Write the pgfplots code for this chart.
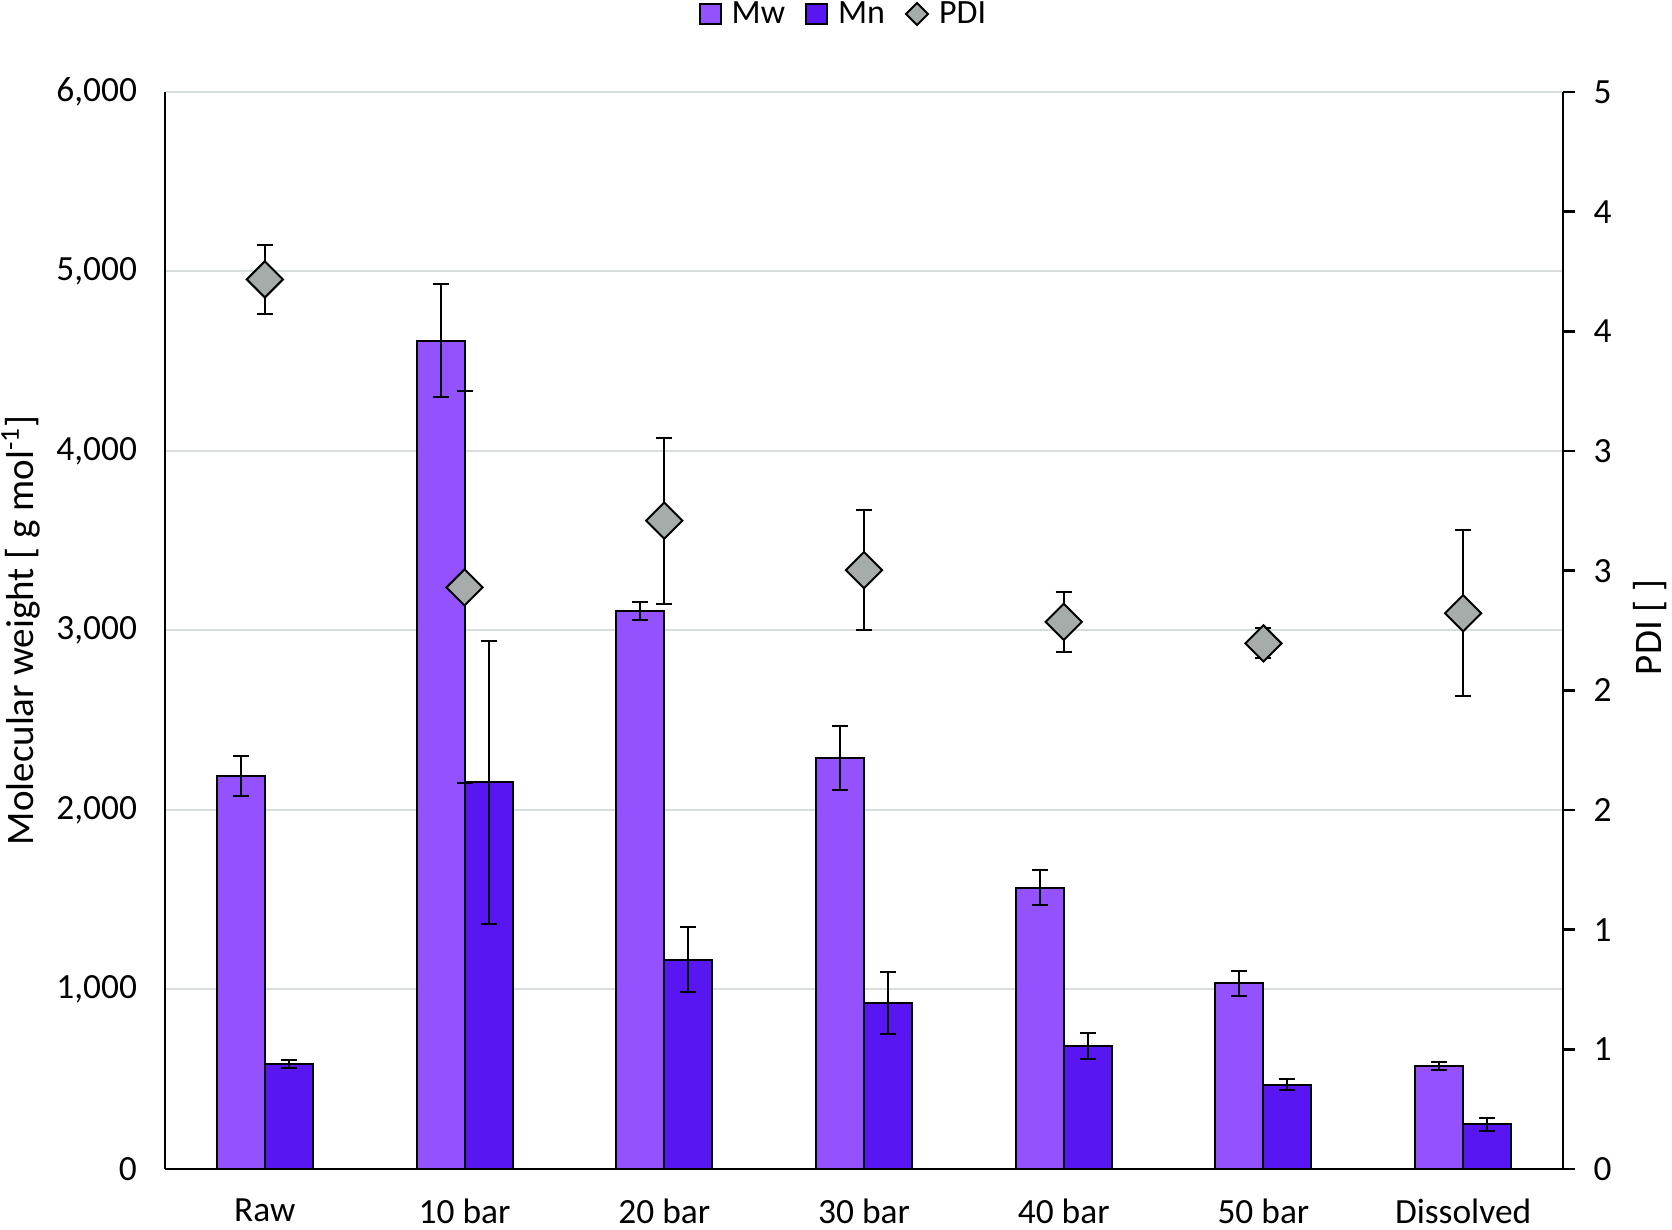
\documentclass[border=0pt]{standalone}
\usepackage{fontspec}
\setmainfont{Carlito}
\usepackage{pgfplots}
\usepackage{pgfplotstable}
\pgfplotsset{compat=1.18}
\definecolor{mwc}{RGB}{148,82,254}
\definecolor{mnc}{RGB}{88,22,242}
\definecolor{pdic}{RGB}{166,172,170}
\definecolor{gridc}{RGB}{216,221,221}

\pgfplotstableread{
x xw xn mw mwe mn mne pdi pdie
0 -0.12 0.12 2190 112 585 20 4.13 0.16
1 0.88 1.12 4614 316 2155 789 2.70 0.91
2 1.88 2.12 3110 50 1167 183 3.01 0.385
3 2.88 3.12 2288 178 926 172 2.78 0.28
4 3.88 4.12 1566 97 685 75 2.54 0.14
5 4.88 5.12 1034 70 469 31 2.44 0.07
6 5.88 6.12 573 23 249 35 2.58 0.385
}\data

\begin{document}
\begin{tikzpicture}
\path[use as bounding box] (0pt,0pt) rectangle (836pt,615pt);
\begin{axis}[
  at={(82.5pt,30.5pt)}, anchor=south west,
  width=699pt, height=538.5pt, scale only axis,
  xmin=-0.5, xmax=6.5, ymin=0, ymax=6000,
  axis x line*=bottom, axis y line*=left,
  axis line style={line width=1.2pt, -},
  xtick={0,...,6},
  xticklabels={Raw,10 bar,20 bar,30 bar,40 bar,50 bar,Dissolved},
  ytick={0,1000,...,6000},
  major tick length=0pt,
  ymajorgrids, grid style={gridc, line width=1pt},
  tick label style={font=\fontsize{17.7}{20}\selectfont},
  xticklabel style={yshift=-11.5pt},
  yticklabel style={xshift=-10.5pt},
  /pgf/number format/.cd, 1000 sep={,}, assume math mode=true, /pgfplots/.cd,
  ylabel={Molecular weight [ g mol\textsuperscript{-1}]},
  ylabel style={at={(axis description cs:-0.103,0.5)}, anchor=center, font=\fontsize{19.5}{22}\selectfont},
  error bars/error bar style={line width=1pt, black},
  error bars/error mark options={rotate=90, line width=1pt, black, mark size=4pt},
]
\addplot[ybar, bar width=24pt, bar shift=0pt, fill=mwc, draw=black, line width=1pt,
  error bars/.cd, y dir=both, y explicit]
  table[x=xw, y=mw, y error=mwe]{\data};
\addplot[ybar, bar width=24pt, bar shift=0pt, fill=mnc, draw=black, line width=1pt,
  error bars/.cd, y dir=both, y explicit]
  table[x=xn, y=mn, y error=mne]{\data};
\end{axis}
\begin{axis}[
  at={(82.5pt,30.5pt)}, anchor=south west,
  width=699pt, height=538.5pt, scale only axis,
  xmin=-0.5, xmax=6.5, ymin=0, ymax=5,
  axis x line=none, axis y line*=right,
  axis line style={line width=1.2pt, -},
  ytick={0,0.5556,1.1111,1.6667,2.2222,2.7778,3.3333,3.8889,4.4444,5},
  yticklabels={0,1,1,2,2,3,3,4,4,5},
  tick align=outside, major tick length=6pt,
  tick style={line width=1.2pt, black},
  tick label style={font=\fontsize{17.7}{20}\selectfont},
  yticklabel style={xshift=5.8pt},
  ylabel={PDI [ ]},
  ylabel style={at={(axis description cs:1.062,0.503)}, anchor=center, font=\fontsize{19.5}{22}\selectfont},
  legend style={at={(axis description cs:0.486,1.0724)}, anchor=center, draw=none, fill=none,
    legend columns=3, font=\fontsize{17}{20}\selectfont,
    /tikz/every odd column/.append style={column sep=3pt},
    /tikz/every even column/.append style={column sep=8pt},
    inner sep=0pt, row sep=0pt},
  legend cell align=left,
  error bars/error bar style={line width=1pt, black},
  error bars/error mark options={rotate=90, line width=1pt, black, mark size=4pt},
]
\addlegendimage{legend image code/.code={\draw[fill=mwc, draw=black, line width=1pt] (0pt,-5.2pt) rectangle (10.5pt,5.2pt);}}
\addlegendentry{Mw}
\addlegendimage{legend image code/.code={\draw[fill=mnc, draw=black, line width=1pt] (0pt,-5.2pt) rectangle (10.5pt,5.2pt);}}
\addlegendentry{Mn}
\addlegendimage{legend image code/.code={\draw[fill=pdic, draw=black, line width=1pt] (5.5pt,-5.5pt) -- (11pt,0pt) -- (5.5pt,5.5pt) -- (0pt,0pt) -- cycle;}}
\addlegendentry{PDI}
\addplot[only marks, mark=square*, mark size=6.4pt,
  mark options={rotate=45, fill=pdic, draw=black, line width=1pt},
  error bars/.cd, y dir=both, y explicit]
  table[x=x, y=pdi, y error=pdie]{\data};
\end{axis}
\end{tikzpicture}
\end{document}
